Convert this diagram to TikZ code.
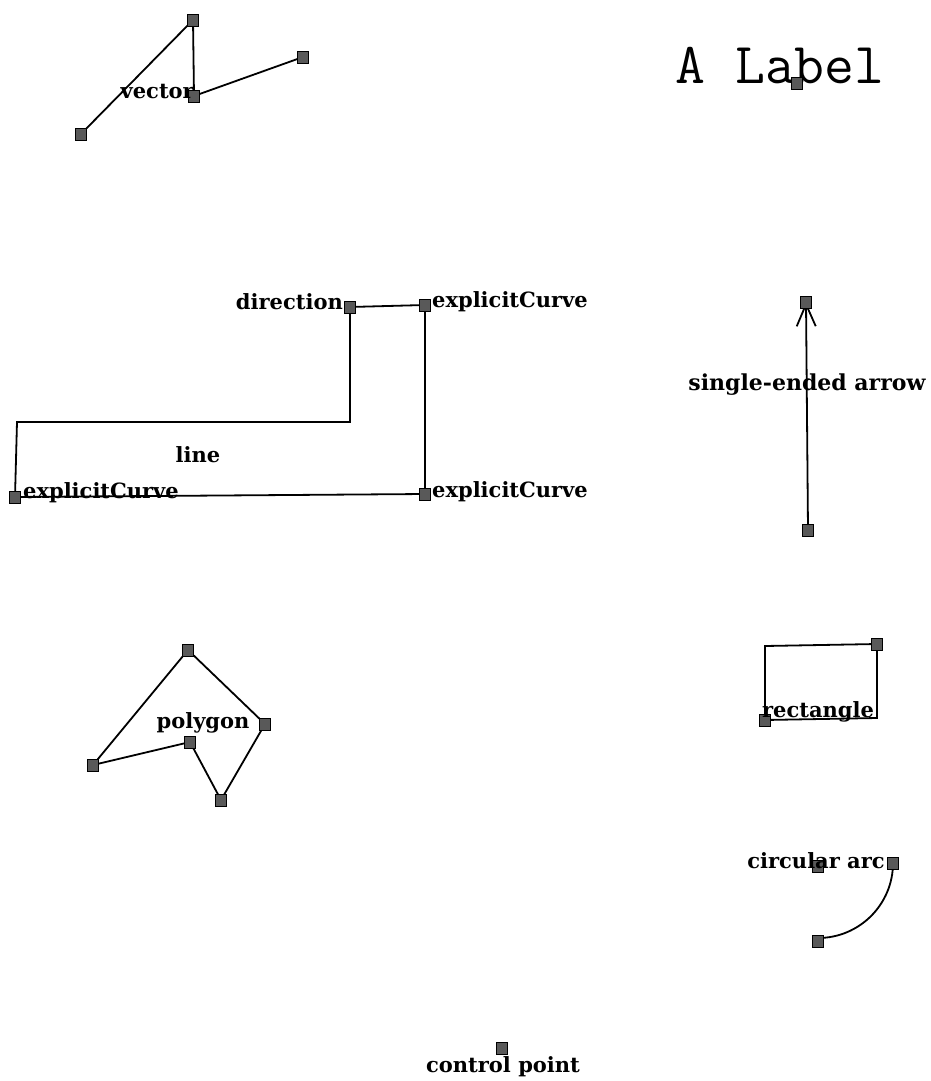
\documentclass[tikz,border=0pt]{standalone}
\usepackage{fontspec}
\newfontfamily\lblfont{DejaVu Serif}
\usetikzlibrary{arrows.meta,backgrounds}
\tikzset{
  cp/.style={draw=black, fill=black!65, minimum width=11pt, minimum height=12pt, inner sep=0pt, line width=0.9pt},
  lbl/.style={font=\lblfont\bfseries\fontsize{21}{23}\selectfont, inner sep=0pt},
  ln/.style={line width=1.8pt, line join=miter}
}
\begin{document}
\begin{tikzpicture}[x=1pt,y=-1pt]
\useasboundingbox (0,0) rectangle (931,1081);
% vector
\node[cp] (v1) at (193,20) {};
\node[cp] (v2) at (303,57) {};
\node[cp] (v3) at (194,96) {};
\node[cp] (v4) at (81,134) {};
\node[lbl, anchor=base east] (vl) at (194,98) {vector};
% A Label
\node[font=\ttfamily\fontsize{58}{60}\selectfont, anchor=base, inner sep=0pt] (al) at (780,83) {A Label};
\node[cp] (am) at (797,83) {};
% direction / explicit curves
\node[cp] (dir) at (350,307) {};
\node[cp] (ec1) at (425,305) {};
\node[cp] (ec2) at (15,497) {};
\node[cp] (ec3) at (425,494) {};
\coordinate (c1) at (350,422);
\coordinate (c2) at (17,422);
\node[lbl, anchor=base east] (dl) at (343,309) {direction};
\node[lbl, anchor=base west] (el1) at (432,307) {explicitCurve};
\node[lbl, anchor=base west] (el2) at (23,498) {explicitCurve};
\node[lbl, anchor=base west] (el3) at (432,497) {explicitCurve};
\node[lbl, anchor=base] (ll) at (198,462) {line};
% arrow
\node[cp] (at) at (806,302) {};
\node[cp] (ab) at (808,530) {};
\node[lbl, anchor=base, font=\lblfont\bfseries\fontsize{22}{24}\selectfont] (arl) at (807,390) {single-ended arrow};
% polygon
\node[cp] (p1) at (188,650) {};
\node[cp] (p2) at (265,724) {};
\node[cp] (p3) at (221,800) {};
\node[cp] (p4) at (190,742) {};
\node[cp] (p5) at (93,765) {};
\node[lbl, anchor=base] (pl) at (203,728) {polygon};
% rectangle
\node[cp] (r1) at (877,644) {};
\node[cp] (r2) at (765,720) {};
\coordinate (r3) at (765,646);
\coordinate (r4) at (877,718);
\node[lbl, anchor=base] (rl) at (818,717) {rectangle};
% circular arc
\node[cp] (ac) at (818,866) {};
\node[cp] (as) at (893,863) {};
\node[cp] (ae) at (818,941) {};
\node[lbl, anchor=base] (cl) at (816,868) {circular arc};
% control point
\node[cp] (cpm) at (502,1048) {};
\node[lbl, anchor=base] (cpl) at (503,1072) {control point};
\begin{scope}[on background layer]
\draw[ln] (v4.center) -- (v1.center) -- (v3.center) -- (v2.center);
\draw[ln] (ec1.center) -- (dir.center) -- (c1) -- (c2) -- (ec2.center) -- (ec3.center) -- (ec1.center);
\draw[ln, -{Straight Barb[length=22pt,width=19pt,line width=1.8pt]}] (ab.center) -- (at.center);
\draw[ln] (p1.center) -- (p2.center) -- (p3.center) -- (p4.center) -- (p5.center) -- cycle;
\draw[ln] (r2.center) -- (r3) -- (r1.center) -- (r4) -- (r2.center);
\draw[ln] (as.center) arc[start angle=0, end angle=-90, radius=75pt];
\end{scope}
\end{tikzpicture}
\end{document}
